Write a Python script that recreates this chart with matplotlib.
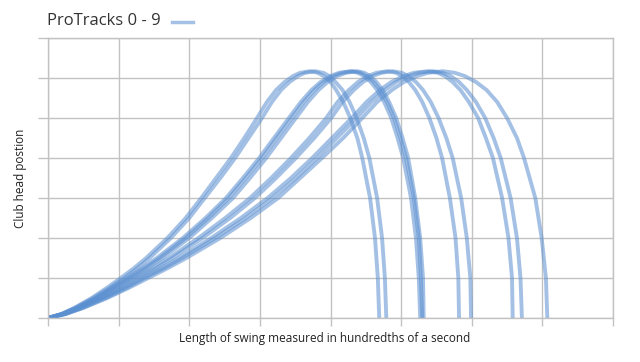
import matplotlib
matplotlib.use("Agg")
import matplotlib.pyplot as plt
from matplotlib.lines import Line2D

plt.rcParams['font.family'] = ['Open Sans', 'DejaVu Sans']

# club head position levels: rising side up to the top, then the falling side
levels_up = [0, 1, 2.5, 5, 7.5, 10, 12.5, 15, 20, 25, 30, 35, 40, 45, 50,
             54, 57, 59, 60.5, 61.3, 61.7]
levels_down = [61.3, 60.5, 59, 57, 54, 50, 45, 40, 30, 20, 10, 0]

# time (hundredths of a second) at which each track passes those levels
tracks_up = [
    [0, 1.9, 3.7, 6.2, 8.3, 10.3, 12.2, 13.9, 16.9, 19.5, 21.7, 23.8, 25.9, 27.8, 29.6, 31.0, 32.3, 33.5, 34.7, 35.7, 37.1],
    [0, 1.9, 3.8, 6.4, 8.7, 10.8, 12.7, 14.4, 17.4, 20.0, 22.2, 24.4, 26.5, 28.4, 30.3, 31.7, 33.0, 34.2, 35.4, 36.4, 37.8],
    [0, 2.0, 4.0, 6.7, 9.0, 11.2, 13.4, 15.4, 19.1, 22.3, 25.2, 27.6, 29.9, 32.0, 34.1, 35.8, 37.3, 38.6, 40.0, 41.2, 42.8],
    [0, 2.1, 4.1, 6.9, 9.2, 11.5, 13.7, 15.8, 19.5, 22.7, 25.6, 28.0, 30.3, 32.4, 34.5, 36.2, 37.7, 39.0, 40.4, 41.6, 43.2],
    [0, 2.1, 4.2, 7.0, 9.5, 11.8, 14.1, 16.2, 20.0, 23.2, 26.2, 28.6, 30.9, 33.0, 35.1, 36.8, 38.3, 39.6, 41.0, 42.2, 43.8],
    [0, 2.2, 4.4, 7.3, 9.9, 12.3, 14.8, 17.1, 21.3, 25.1, 28.6, 31.6, 34.4, 37.0, 39.4, 41.0, 42.6, 43.9, 45.3, 46.5, 48.1],
    [0, 2.3, 4.5, 7.6, 10.3, 12.7, 15.3, 17.6, 21.9, 25.8, 29.3, 32.3, 35.1, 37.7, 40.1, 41.7, 43.3, 44.6, 46.0, 47.2, 48.8],
    [0, 2.4, 4.7, 7.9, 10.7, 13.3, 16.0, 18.5, 23.1, 27.3, 31.1, 34.4, 37.4, 40.2, 43.0, 45.1, 47.0, 48.6, 50.4, 51.8, 53.8],
    [0, 2.5, 4.9, 8.2, 11.1, 13.7, 16.5, 19.0, 23.7, 28.0, 31.8, 35.1, 38.1, 40.9, 43.7, 45.8, 47.7, 49.3, 51.1, 52.5, 54.5],
    [0, 2.5, 5.0, 8.4, 11.4, 14.2, 17.0, 19.6, 24.4, 28.7, 32.6, 35.7, 38.8, 41.8, 44.5, 46.6, 48.7, 50.4, 52.3, 53.8, 55.9],
]
tracks_down = [
    [38.2, 39.0, 40.0, 40.8, 41.8, 42.8, 43.8, 44.5, 45.6, 46.3, 46.7, 46.9],
    [39.0, 39.8, 40.7, 41.7, 42.7, 43.7, 44.7, 45.5, 46.6, 47.3, 47.7, 47.9],
    [43.9, 44.7, 45.7, 46.6, 47.6, 48.6, 49.5, 50.3, 51.4, 52.1, 52.5, 52.7],
    [44.3, 45.1, 46.1, 47.0, 48.0, 49.0, 49.9, 50.7, 51.8, 52.5, 52.8, 53.0],
    [44.8, 45.6, 46.5, 47.4, 48.3, 49.3, 50.2, 51.0, 52.0, 52.7, 53.1, 53.2],
    [49.3, 50.1, 51.1, 52.0, 53.0, 54.0, 55.0, 55.8, 56.9, 57.7, 58.1, 58.2],
    [50.1, 51.0, 52.1, 53.1, 54.2, 55.3, 56.4, 57.3, 58.5, 59.3, 59.8, 59.9],
    [55.2, 56.2, 57.3, 58.4, 59.6, 60.9, 62.0, 63.0, 64.3, 65.2, 65.7, 65.8],
    [55.9, 57.0, 58.2, 59.3, 60.6, 61.9, 63.1, 64.1, 65.5, 66.4, 66.9, 67.1],
    [57.6, 59.0, 60.6, 62.1, 63.6, 65.0, 66.4, 67.4, 69.0, 69.9, 70.5, 70.7],
]

title = "ProTracks 0 - 9"
xlabel = "Length of swing measured in hundredths of a second"
ylabel = "Club head postion"

line_col = '#5a8fd0'
grid_col = '#c2c2c2'

fig = plt.figure(figsize=(6.4, 3.62), dpi=100)
ax = fig.add_axes([48/640, 44/362, 565/640, 280/362])

for up, down in zip(tracks_up, tracks_down):
    ax.plot(up + down, levels_up + levels_down, color=line_col, alpha=0.55,
            lw=2.8, solid_capstyle='butt', solid_joinstyle='round')

ax.set_xlim(0, 80)
ax.set_ylim(0, 70)
ax.set_xticks(range(0, 81, 10))
ax.set_yticks(range(0, 71, 10))
ax.set_xticklabels([])
ax.set_yticklabels([])
ax.grid(True, color=grid_col, lw=1.0)
ax.set_axisbelow(True)
for s in ax.spines.values():
    s.set_color(grid_col)
    s.set_linewidth(1.0)
ax.tick_params(axis='x', length=6, width=1.0, color=grid_col)
ax.tick_params(axis='y', length=7.2, width=1.0, color=grid_col)

ax.set_xlabel(xlabel, fontsize=8.5, color='#222222')
ax.set_ylabel(ylabel, fontsize=8.5, color='#222222')
ax.xaxis.set_label_coords(0.49, -0.072)
ax.yaxis.set_label_coords(-0.048, 0.5)
ax.xaxis.label.set_va('center')
ax.yaxis.label.set_va('center')

fig.text(47/640, 1 - 21/362, title, fontsize=12, color='#333333',
         ha='left', va='center')
fig.add_artist(Line2D([172/640, 193/640], [1 - 22/362, 1 - 22/362],
                      color=line_col, alpha=0.55, lw=2.5))

fig.savefig('out.png', dpi=100)
